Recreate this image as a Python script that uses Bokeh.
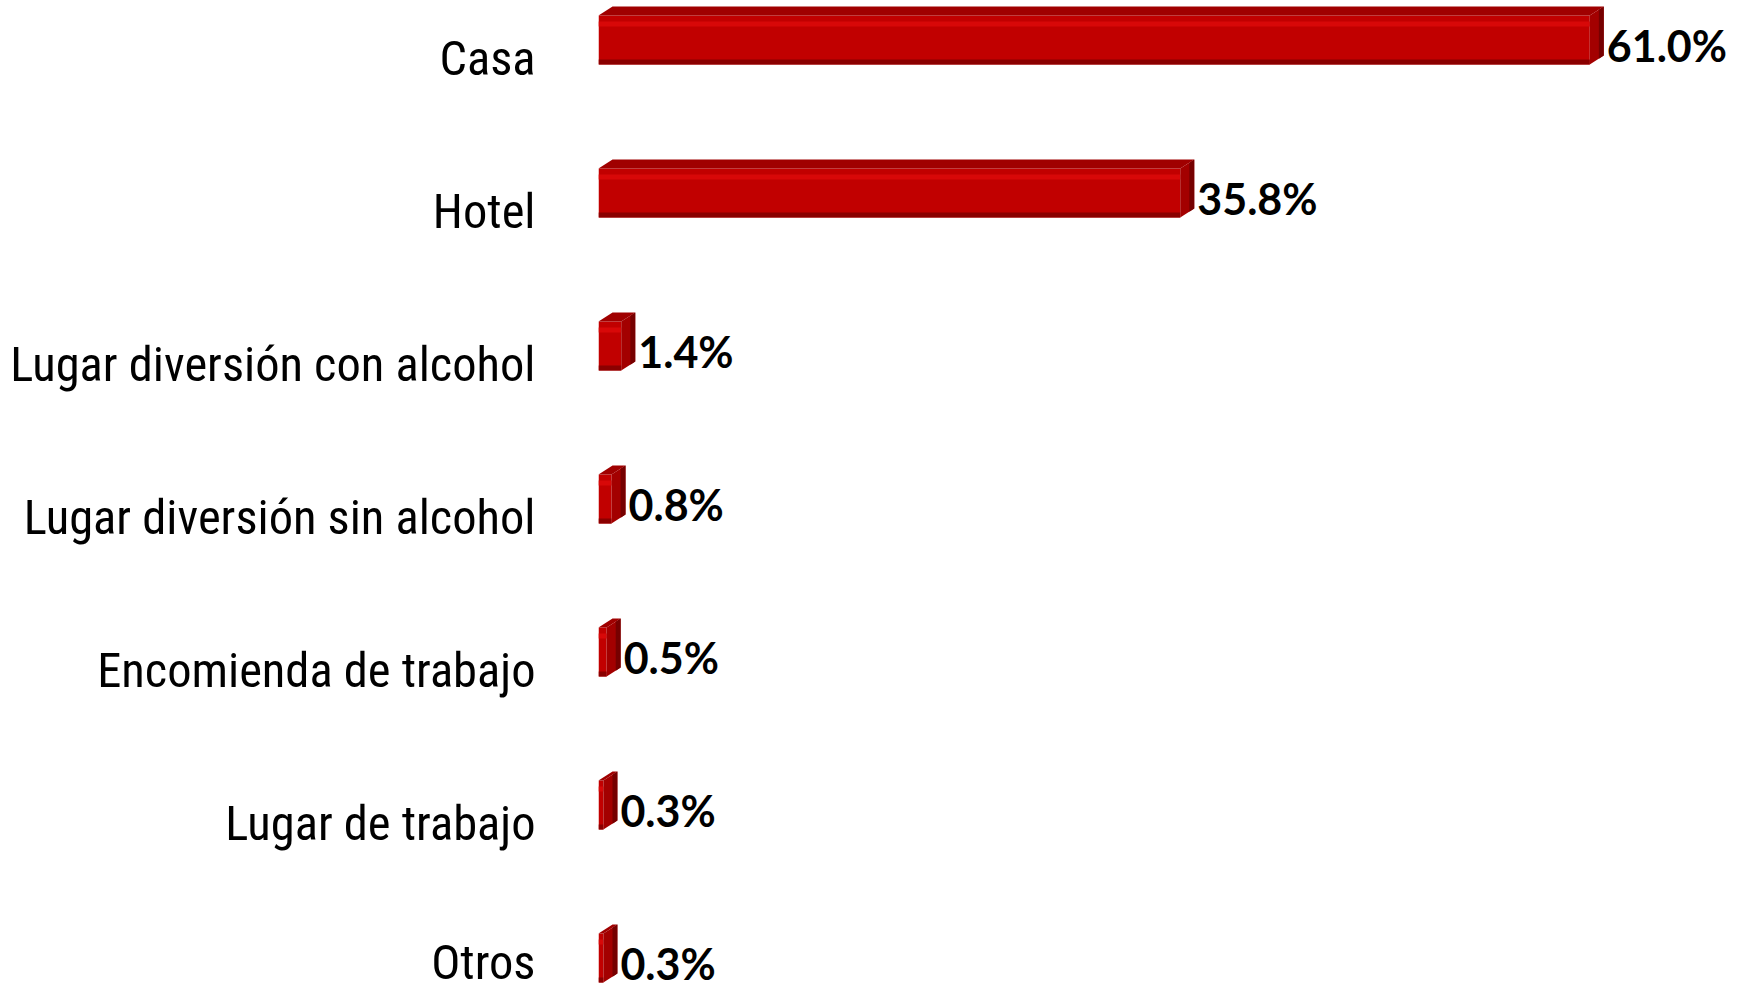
import numpy as np
from bokeh.plotting import figure
from bokeh.models import Range1d, FixedTicker, ColumnDataSource
from bokeh.core.properties import value
from bokeh.embed import file_html
from bokeh.resources import INLINE

# ---- data ----
categories = ["Casa", "Hotel", "Lugar diversión con alcohol", "Lugar diversión sin alcohol",
              "Encomienda de trabajo", "Lugar de trabajo", "Otros"]
values = [61.0, 35.8, 1.4, 0.8, 0.5, 0.3, 0.3]
labels = [f"{v:.1f}%" for v in values]

# ---- layout constants ----
W, H = 1740, 990
LEFT = 598          # px reserved for category labels
PX_X = 16.25        # px per percentage point
PX_Y = 153.0        # px per category
TOP_PAD = 58.0      # px from top to first category label centre
DEPTH_X, DEPTH_Y = 14.0, 9.0   # 3D depth in px
BAR_H = 58.0
BAR_SHIFT = -23.0   # bar centre relative to label centre, px

n = len(categories)
pos = np.arange(n, dtype=float)
x_end = (W - LEFT) / PX_X
t = TOP_PAD / PX_Y
b = H / PX_Y - (n - 1) - t

p = figure(width=W, height=H, x_range=Range1d(0, x_end), y_range=Range1d(n - 1 + b, -t),
           output_backend="svg", toolbar_location=None, x_axis_location=None,
           min_border_left=LEFT, min_border_right=0, min_border_top=0, min_border_bottom=0)
p.grid.visible = False
p.outline_line_color = None
p.background_fill_color = "white"
p.border_fill_color = "white"

ax = p.yaxis[0]
ax.ticker = FixedTicker(ticks=list(pos))
ax.major_label_overrides = {float(i): c for i, c in enumerate(categories)}
ax.major_label_overrides.update({int(i): c for i, c in enumerate(categories)})
ax.axis_line_color = None
ax.major_tick_line_color = None
ax.minor_tick_line_color = None
ax.major_tick_out = 0
ax.major_tick_in = 0
ax.major_label_standoff = 63
ax.major_label_text_font = "Liberation Sans Narrow, Roboto Condensed, DejaVu Sans Condensed, sans-serif"
ax.major_label_text_font_size = "48.5px"
ax.major_label_text_color = "black"

# ---- bar geometry (data units) ----
v = np.array(values)
dxu = DEPTH_X / PX_X
dyu = DEPTH_Y / PX_Y
half = BAR_H / 2 / PX_Y
yc = pos + BAR_SHIFT / PX_Y
top = yc - half
bot = yc + half
ftop = top + dyu

src = ColumnDataSource(dict(v=v, yc=yc, top=top, bot=bot, ftop=ftop, label=labels,
                            hl_t=ftop + 6 / PX_Y, hl_b=ftop + 11 / PX_Y,
                            sh_t=bot - 5 / PX_Y, zero=np.zeros(n)))

# front face
p.quad(left="zero", right="v", top="ftop", bottom="bot", source=src,
       fill_color="#c10000", line_color=None)
# highlight band and bottom shadow
p.quad(left="zero", right="v", top="hl_t", bottom="hl_b", source=src,
       fill_color="#d80808", line_color=None)
p.quad(left="zero", right="v", top="sh_t", bottom="bot", source=src,
       fill_color="#8a0000", line_color=None)

# top face
top_xs = [[0, dxu, vi + dxu, vi] for vi in v]
top_ys = [[ft, tp, tp, ft] for ft, tp in zip(ftop, top)]
p.patches(top_xs, top_ys, fill_color="#a00000", line_color=None)

# side face
side_xs = [[vi, vi + dxu, vi + dxu, vi] for vi in v]
side_ys = [[ft, tp, bt - dyu, bt] for ft, tp, bt in zip(ftop, top, bot)]
p.patches(side_xs, side_ys, fill_color="#a30000", line_color=None)
rim = 0.35
rim_xs = [[vi + dxu * (1 - rim), vi + dxu, vi + dxu, vi + dxu * (1 - rim)] for vi in v]
rim_ys = [[tp + dyu * rim, tp, bt - dyu, bt - dyu * (1 - rim)] for tp, bt in zip(top, bot)]
p.patches(rim_xs, rim_ys, fill_color="#760000", line_color=None)

# value labels
p.text(x="v", y="yc", text="label", source=src, x_offset=DEPTH_X + 3, y_offset=10,
       text_align="left", text_baseline="alphabetic",
       text_font=value("Lato"), text_font_style="bold", text_font_size="43px",
       text_color="black")

open("out.html", "w").write(file_html(p, INLINE))
